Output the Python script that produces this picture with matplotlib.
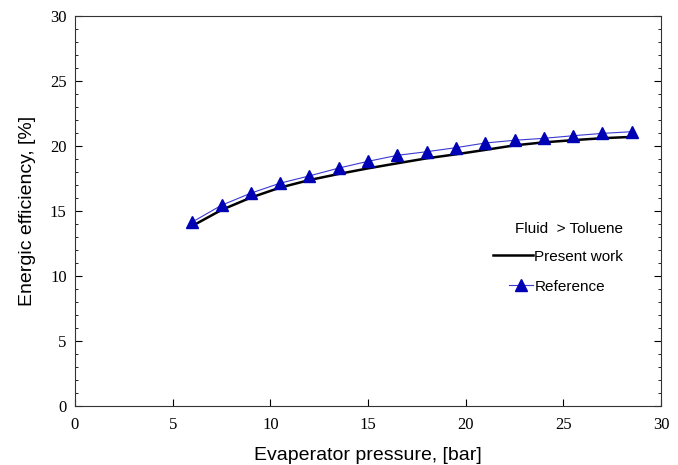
import numpy as np
import matplotlib.pyplot as plt
from matplotlib.legend_handler import HandlerLine2D

pressure = [6, 7.5, 9, 10.5, 12, 13.5, 15, 16.5, 18, 19.5, 21, 22.5, 24, 25.5, 27, 28.5]
present_work = [13.85, 15.08, 16.03, 16.8, 17.38, 17.85, 18.28, 18.67, 19.05, 19.36,
                19.7, 20.05, 20.28, 20.45, 20.6, 20.7]
reference = [14.15, 15.44, 16.37, 17.14, 17.7, 18.3, 18.82, 19.28, 19.56, 19.87,
             20.23, 20.44, 20.59, 20.79, 20.97, 21.1]


# shorter legend handle for the marker series, like in the original figure
class ShortHandler(HandlerLine2D):
    def create_artists(self, legend, orig_handle, xdescent, ydescent, width, height,
                       fontsize, trans):
        cut = width * 0.4
        return super().create_artists(legend, orig_handle, xdescent - cut, ydescent,
                                      width - cut, height, fontsize, trans)


fig = plt.figure(figsize=(6.78, 4.65), dpi=100)
ax = fig.add_axes([0.1106, 0.1269, 0.8644, 0.8387])

ax.plot(pressure, present_work, color='black', lw=1.8, label='Present work')
ref_line, = ax.plot(pressure, reference, color='#3a3ad0', lw=0.8, marker='^', ms=9,
                    mfc='#0000b4', mec='#0000b4', label='Reference')

ax.set_xlim(0, 30)
ax.set_ylim(0, 30)
ax.set_xticks(np.arange(0, 31, 5))
ax.set_yticks(np.arange(0, 31, 5))
ax.set_yticks(np.arange(0, 31, 1), minor=True)

for lab in ax.get_xticklabels() + ax.get_yticklabels():
    lab.set_family('Liberation Serif')
    lab.set_fontsize(12)

ax.tick_params(axis='x', direction='in', length=5, width=0.8, pad=8)
ax.tick_params(axis='y', which='major', direction='in', length=5, width=0.8,
               right=True, pad=6)
ax.tick_params(axis='y', which='minor', direction='in', length=2, width=0.6, right=True)
for s in ax.spines.values():
    s.set_linewidth(0.8)
    s.set_color('#333333')

ax.set_xlabel('Evaperator pressure, [bar]', family='Liberation Sans', fontsize=14, labelpad=10)
ax.set_ylabel('Energic efficiency, [%]', family='Liberation Sans', fontsize=14, labelpad=10)

leg = ax.legend(title='Fluid  > Toluene', loc='center left', bbox_to_anchor=(0.69, 0.38),
                frameon=False, handlelength=2.6, handletextpad=0.1, labelspacing=1.05,
                handler_map={ref_line: ShortHandler()},
                prop={'family': 'Liberation Sans', 'size': 11},
                title_fontproperties={'family': 'Liberation Sans', 'size': 11})
leg._legend_box.align = 'right'
leg._legend_box.sep = 10

fig.savefig('out.png', dpi=100)
